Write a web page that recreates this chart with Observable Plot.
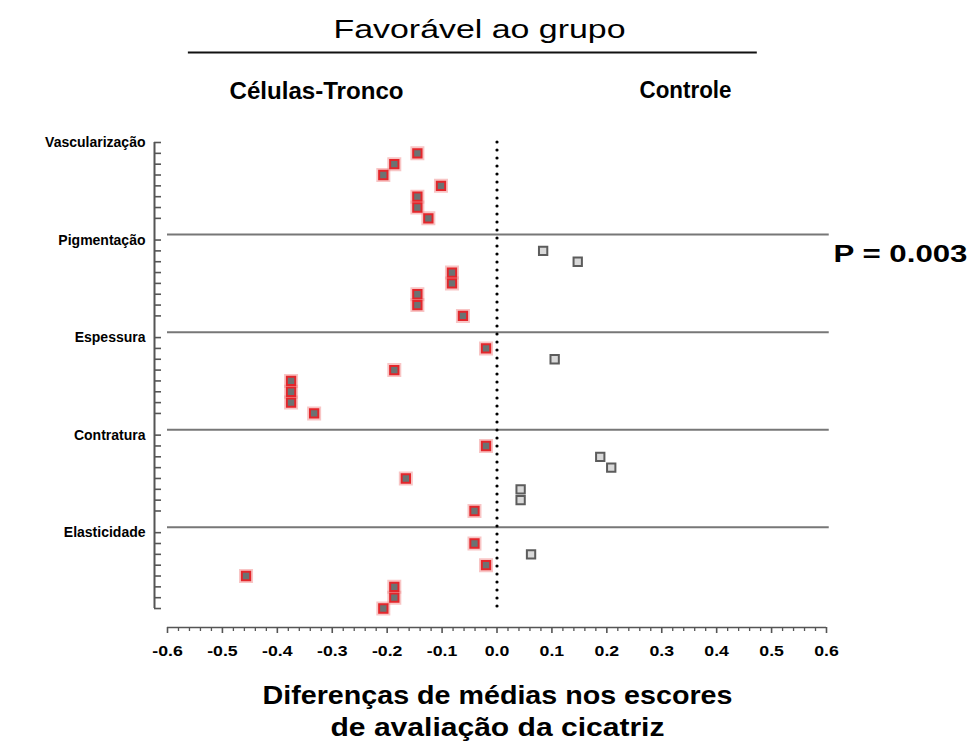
<!DOCTYPE html>
<html><head><meta charset="utf-8">
<script src="https://cdn.jsdelivr.net/npm/d3@7"></script>
<script src="https://cdn.jsdelivr.net/npm/@observablehq/plot@0.6"></script>
<style>body{margin:0;background:#fff} svg{display:block}</style>
</head><body><div id="chart"></div>
<script>
// ---- data ----
const categories = ["Vascularização", "Pigmentação", "Espessura", "Contratura", "Elasticidade"];
const vascularizacao = [-0.145, -0.187, -0.207, -0.102, -0.145, -0.145, -0.125];
const pigmentacao    = [0.084, 0.147, -0.082, -0.082, -0.145, -0.145, -0.062];
const espessura      = [-0.020, 0.105, -0.187, -0.375, -0.375, -0.375, -0.333];
const contratura     = [-0.020, 0.188, 0.208, -0.166, 0.043, 0.043, -0.041];
const elasticidade   = [-0.041, 0.062, -0.020, -0.457, -0.187, -0.187, -0.207];
const seriesByCategory = [vascularizacao, pigmentacao, espessura, contratura, elasticidade];
const groups = ["Células-Tronco", "Controle"];
const xTicks = [-0.6, -0.5, -0.4, -0.3, -0.2, -0.1, 0.0, 0.1, 0.2, 0.3, 0.4, 0.5, 0.6];
const xTickLabels = ["-0.6", "-0.5", "-0.4", "-0.3", "-0.2", "-0.1", "0.0", "0.1", "0.2", "0.3", "0.4", "0.5", "0.6"];
const titleText = "Favorável ao grupo";
const pText = "P = 0.003";
const xTitleLines = ["Diferenças de médias nos escores", "de avaliação da cicatriz"];

// ---- derived tables ----
const ROWS_PER_CAT = 9; // label row + 7 studies + blank row
const points = seriesByCategory.flatMap((vals, i) =>
  vals.map((v, j) => ({category: categories[i], value: v, row: i * ROWS_PER_CAT + 1 + j, group: v < 0 ? groups[0] : groups[1]})));
const labelRows = categories.map((c, i) => ({label: c, row: i * ROWS_PER_CAT}));
const tickRows = d3.range(0, categories.length * ROWS_PER_CAT).filter(r => r % ROWS_PER_CAT !== ROWS_PER_CAT - 1);
const separatorRows = d3.range(1, categories.length).map(i => i * ROWS_PER_CAT - 0.5);
const lastRow = categories.length * ROWS_PER_CAT - 2;
const minorTicks = d3.range(-30, 31).filter(k => k % 5 !== 0).map(k => k / 50);
const stem = points.filter(d => d.group === groups[0]);
const ctrl = points.filter(d => d.group === groups[1]);

const chart = Plot.plot({
  width: 979, height: 744,
  marginLeft: 167, marginRight: 153, marginTop: 142, marginBottom: 117,
  style: {fontFamily: "'Liberation Sans', Arial, sans-serif", color: "#000", background: "#fff"},
  x: {domain: [-0.6, 0.6], label: null},
  y: {domain: [0, 44.75], reverse: true, label: null},
  marks: [
    Plot.ruleY(separatorRows, {x1: -0.6, x2: 0.605, stroke: "#777", strokeWidth: 2}),
    Plot.ruleX([0], {y1: 0, y2: lastRow + 0.2, stroke: "#000", strokeWidth: 3.2, strokeDasharray: "0,8", strokeLinecap: "round"}),
    // y axis
    Plot.ruleX([-0.6], {y1: 0, y2: lastRow, dx: -13, stroke: "#555", strokeWidth: 2}),
    Plot.axisY(tickRows, {anchor: "left", tickSize: -7, dx: -13, stroke: "#555", strokeWidth: 1.6, tickFormat: () => "", label: null}),
    Plot.text(labelRows, {x: -0.6, y: "row", text: "label", textAnchor: "end", dx: -22, fontWeight: "bold", fontSize: 14}),
    // x axis
    Plot.ruleY([44.75], {x1: -0.6, x2: 0.6, stroke: "#555", strokeWidth: 1.6}),
    Plot.axisX(minorTicks, {anchor: "bottom", tickSize: 4, stroke: "#555", strokeWidth: 1.3, tickFormat: () => "", label: null}),
    Plot.axisX(xTicks, {anchor: "bottom", tickSize: 6, tickPadding: 12, stroke: "#555", strokeWidth: 1.6,
      tickFormat: d => xTickLabels[xTicks.indexOf(d)], fontWeight: "bold", fontSize: 14.5, label: null}),
    // points
    Plot.dot(stem, {x: "value", y: "row", symbol: "square", r: 6.2, fill: "none", stroke: "#f28b8b", strokeWidth: 3, strokeOpacity: 0.5}),
    Plot.dot(stem, {x: "value", y: "row", symbol: "square", r: 4.7, fill: "#6c7272", stroke: "#e3262b", strokeWidth: 2}),
    Plot.dot(ctrl, {x: "value", y: "row", symbol: "square", r: 4.7, fill: "#d9d9d9", stroke: "#5c5c5c", strokeWidth: 2}),
    // headers
    Plot.text([titleText], {frameAnchor: "top-left", lineAnchor: "middle", dx: 479 - 167, dy: 29 - 142, fontSize: 25, textAnchor: "middle"}),
    Plot.ruleY([-8.3], {x1: -0.562, x2: 0.474, stroke: "#111", strokeWidth: 2}),
    Plot.text([groups[0]], {frameAnchor: "top-left", lineAnchor: "middle", dx: 316 - 167, dy: 91 - 142, fontSize: 23.5, fontWeight: "bold", textAnchor: "middle"}),
    Plot.text([groups[1]], {frameAnchor: "top-left", lineAnchor: "middle", dx: 685 - 167, dy: 90 - 142, fontSize: 23.5, fontWeight: "bold", textAnchor: "middle"}),
    Plot.text([pText], {frameAnchor: "top-right", lineAnchor: "middle", dx: 900 - 826, dy: 254 - 142, fontSize: 23, fontWeight: "bold", textAnchor: "middle"}),
    Plot.text([xTitleLines[0]], {frameAnchor: "bottom", lineAnchor: "middle", dx: 0.5, dy: 695 - 627, fontSize: 25, fontWeight: "bold", textAnchor: "middle"}),
    Plot.text([xTitleLines[1]], {frameAnchor: "bottom", lineAnchor: "middle", dx: 0.5, dy: 727 - 627, fontSize: 25, fontWeight: "bold", textAnchor: "middle"})
  ]
});
document.getElementById("chart").appendChild(chart);

// horizontal stretch of the (wide) reference lettering
function stretchText(str, width) {
  chart.querySelectorAll("text").forEach(t => {
    if (t.textContent === str) { t.setAttribute("textLength", width); t.setAttribute("lengthAdjust", "spacingAndGlyphs"); }
  });
}
stretchText(titleText, 292);
stretchText(groups[0], 174);
stretchText(groups[1], 92);
stretchText(pText, 134);
stretchText(xTitleLines[0], 470);
stretchText(xTitleLines[1], 334);
chart.querySelectorAll("text").forEach(t => {
  if (xTickLabels.includes(t.textContent)) {
    const w = t.getComputedTextLength();
    t.setAttribute("textLength", w * 1.22); t.setAttribute("lengthAdjust", "spacingAndGlyphs");
  }
});
</script>
</body></html>
